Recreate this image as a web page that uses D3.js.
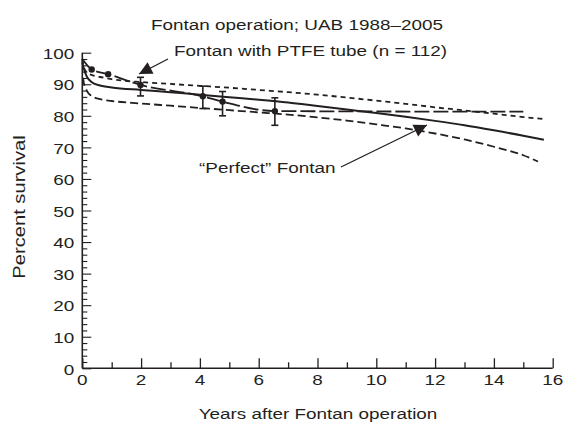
<!DOCTYPE html>
<html><head><meta charset="utf-8">
<script src="https://cdn.jsdelivr.net/npm/d3@7"></script>
<style>body{margin:0;background:#fff}svg{display:block}text{font-family:"Liberation Sans",Arial,sans-serif;fill:#231f20}</style>
</head><body>
<svg id="c" width="571" height="425"></svg>
<script>
const title = "Fontan operation; UAB 1988–2005";
const xTitle = "Years after Fontan operation";
const yTitle = "Percent survival";
const xTicks = [0,2,4,6,8,10,12,14,16];
const yTicks = [0,10,20,30,40,50,60,70,80,90,100];
const curveX = [0,0.05,0.15,0.3,0.6,1,2,3,4,5,6,7,8,9,10,11,12,13,14,15,15.7];
const solidY = [97,95,92.5,90.8,89.6,89.0,88.2,87.5,86.7,85.9,85.1,84.2,83.1,82.0,80.9,79.7,78.4,77.0,75.4,73.7,72.4];
const upperY = [98,95.5,93.8,93.0,92.3,91.6,90.7,90.1,89.5,88.9,88.2,87.5,86.7,85.8,84.8,83.8,82.7,81.7,80.7,79.6,79.0];
const lowerX = [0.03,0.05,0.15,0.3,0.6,1,2,3,4,5,6,7,8,9,10,11,12,13,14,15,15.5];
const lowerY = [92,90.5,88,86.4,85.3,84.7,83.9,83.2,82.5,81.8,81.1,80.4,79.5,78.5,77.3,76.0,74.4,72.5,70.2,67.5,65.5];
const ptfeX = [0,0.32,0.88,1.98,4.1,4.77,6.55,15.0];
const ptfeY = [98,94.7,93.2,89.8,86.2,84.5,81.5,81.3];
const ptX = [0.32,0.88,1.98,4.1,4.77,6.55];
const ptY = [94.7,93.2,89.8,86.2,84.5,81.5];
const ptLo = [null,null,86.3,82.3,80.0,77.0];
const ptHi = [null,null,92.2,89.4,87.7,85.7];
const labelPTFE = "Fontan with PTFE tube (n = 112)";
const labelPerfect = "“Perfect” Fontan";

const svg = d3.select("#c");
const x = d3.scaleLinear().domain([0,16]).range([82.3,552.7]);
const y = d3.scaleLinear().domain([0,100]).range([368.3,52.7]);
const ink = "#231f20";
const SX = 1.26;
function txt(tx,ty,s,anchor,size,rot){
  return svg.append("text")
    .attr("transform",`translate(${tx},${ty})${rot?` rotate(${rot})`:""} scale(${SX},1)`)
    .attr("text-anchor",anchor).attr("font-size",size).text(s);
}

// axes
const xAxis = d3.axisBottom(x).tickValues(d3.range(0,17,1)).tickSize(0).tickFormat("");
const gx = svg.append("g").attr("transform",`translate(0,${y(0)})`).call(xAxis);
gx.select(".domain").remove();
gx.selectAll(".tick line").attr("y2",d=>d%2===0?-10:-6).attr("stroke",ink).attr("stroke-width",1.3);
const yAxis = d3.axisLeft(y).tickValues(d3.range(0,101,2)).tickSize(0).tickFormat("");
const gy = svg.append("g").attr("transform",`translate(${x(0)},0)`).call(yAxis);
gy.select(".domain").remove();
gy.selectAll(".tick line").attr("x2",d=>d%10===0?9:5).attr("stroke",ink).attr("stroke-width",1.1);
svg.append("line").attr("x1",x(0)).attr("x2",x(16)).attr("y1",y(0)).attr("y2",y(0)).attr("stroke",ink).attr("stroke-width",1.6);
svg.append("line").attr("x1",x(0)).attr("x2",x(0)).attr("y1",y(0)).attr("y2",y(100)).attr("stroke",ink).attr("stroke-width",1.6);
xTicks.forEach(t=>txt(x(t),y(0)+17,t,"middle",15));
yTicks.forEach(t=>txt(x(0)-8,y(t)+6.2,t,"end",15));

// titles
txt(297,30,title,"middle",15);
txt(318,419,xTitle,"middle",15);
txt(25,207,yTitle,"middle",16,-90);

// lines
const line = d3.line().x(d=>x(d[0])).y(d=>y(d[1])).curve(d3.curveMonotoneX);
const draw = (xs,ys,dash,w)=>svg.append("path").attr("d",line(xs.map((v,i)=>[v,ys[i]]))).attr("fill","none").attr("stroke",ink).attr("stroke-width",w).attr("stroke-dasharray",dash);
draw(curveX,upperY,"5,4",1.8);
draw(lowerX,lowerY,"8,4",1.8);
draw(ptfeX,ptfeY,"15,4",1.8);
draw(curveX,solidY,null,2);

// error bars and points
ptX.forEach((px,i)=>{
  if(ptLo[i]!=null){
    svg.append("line").attr("x1",x(px)).attr("x2",x(px)).attr("y1",y(ptLo[i])).attr("y2",y(ptHi[i])).attr("stroke",ink).attr("stroke-width",1.6);
    [ptLo[i],ptHi[i]].forEach(v=>svg.append("line").attr("x1",x(px)-3.5).attr("x2",x(px)+3.5).attr("y1",y(v)).attr("y2",y(v)).attr("stroke",ink).attr("stroke-width",1.6));
  }
  svg.append("circle").attr("cx",x(px)).attr("cy",y(ptY[i])).attr("r",3.2).attr("fill",ink);
});

// annotations
function arrow(x1,y1,x2,y2){
  svg.append("line").attr("x1",x1).attr("y1",y1).attr("x2",x2).attr("y2",y2).attr("stroke",ink).attr("stroke-width",1.3);
  const a=Math.atan2(y2-y1,x2-x1), L=13, W=6.5;
  const bx=x2-L*Math.cos(a), by=y2-L*Math.sin(a);
  const p=[[x2,y2],[bx+W*Math.sin(a),by-W*Math.cos(a)],[bx-W*Math.sin(a),by+W*Math.cos(a)]];
  svg.append("path").attr("d","M"+p.join("L")+"Z").attr("fill",ink);
}
txt(174,56,labelPTFE,"start",15);
arrow(168,59,139,74);
txt(199,173,labelPerfect,"start",15);
arrow(341,167,427,125);
</script>
</body></html>
